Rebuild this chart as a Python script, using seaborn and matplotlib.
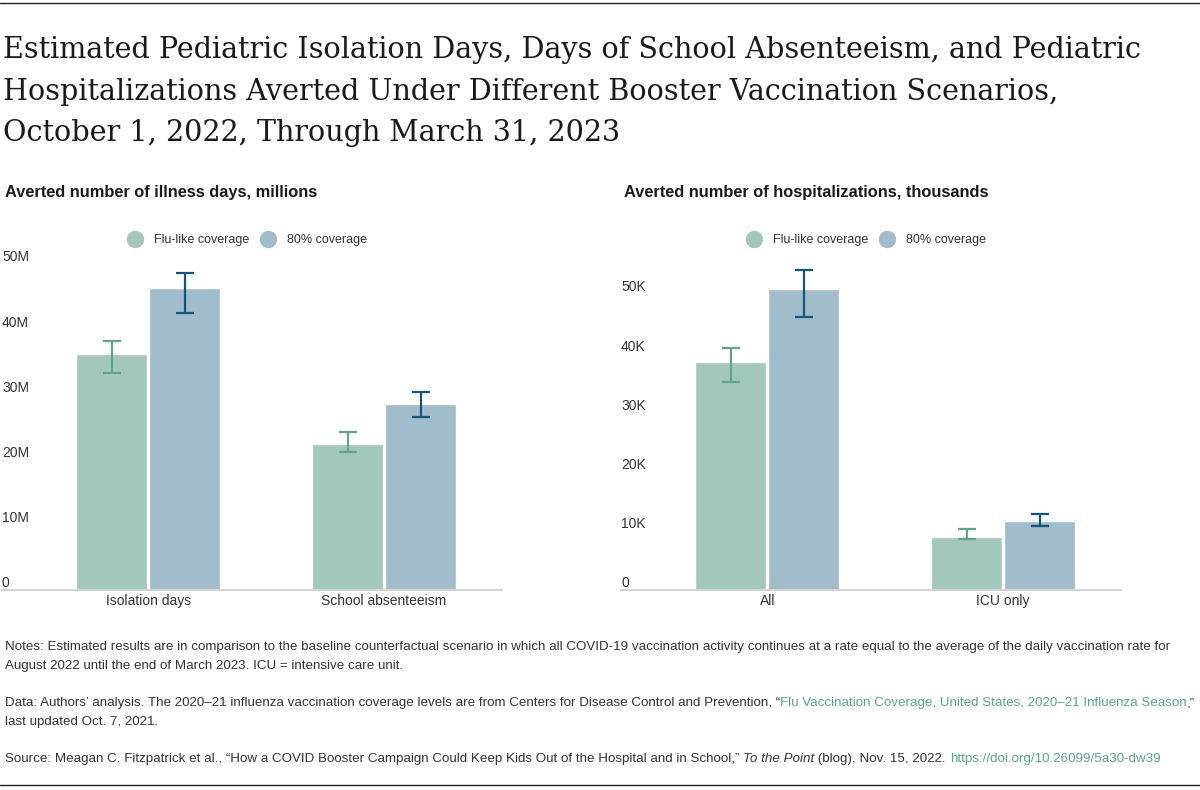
import pandas as pd
import seaborn as sns
import matplotlib.pyplot as plt
from matplotlib.lines import Line2D

# --- data ---
scenarios = ['Flu-like coverage', '80% coverage']

illness_cats = ['Isolation days', 'School absenteeism']
illness_flu = [36.2, 22.4]          # millions
illness_80 = [46.4, 28.6]
illness_flu_lo = [33.4, 21.2]
illness_flu_hi = [38.3, 24.3]
illness_80_lo = [42.6, 26.5]
illness_80_hi = [48.7, 30.4]
illness_ticks = [0, 10, 20, 30, 40, 50]
illness_ticklabels = ['0', '10M', '20M', '30M', '40M', '50M']

hosp_cats = ['All', 'ICU only']
hosp_flu = [38.5, 9.0]              # thousands
hosp_80 = [51.0, 11.6]
hosp_flu_lo = [35.2, 8.6]
hosp_flu_hi = [40.9, 10.4]
hosp_80_lo = [46.2, 10.8]
hosp_80_hi = [54.2, 12.9]
hosp_ticks = [0, 10, 20, 30, 40, 50]
hosp_ticklabels = ['0', '10K', '20K', '30K', '40K', '50K']

title_lines = [
    'Estimated Pediatric Isolation Days, Days of School Absenteeism, and Pediatric',
    'Hospitalizations Averted Under Different Booster Vaccination Scenarios,',
    'October 1, 2022, Through March 31, 2023',
]

# --- style ---
sns.set_theme(style="white")
plt.rcParams['font.family'] = ['Liberation Sans', 'DejaVu Sans']
bar_colors = ['#a3c8bb', '#a1bccb']
err_colors = ['#62a38d', '#14557c']
txt = '#333333'
link = '#5aa58c'

W, H = 1200, 790
fig = plt.figure(figsize=(12, 7.9), dpi=100)


def fx(px):
    return px / W


def fy(py):
    return 1 - py / H


def panel(left_px, cats, flu, p80, lo, hi, ticks, ticklabels, px_per_unit, subtitle):
    ax = fig.add_axes([fx(left_px), fy(590), fx(500), 340 / H])
    df = pd.DataFrame({
        'category': cats * 2,
        'scenario': [scenarios[0]] * len(cats) + [scenarios[1]] * len(cats),
        'value': flu + p80,
    })
    sns.barplot(data=df, x='category', y='value', hue='scenario', hue_order=scenarios,
                palette=bar_colors, saturation=1, width=0.62, gap=0.03,
                legend=False, ax=ax)
    # error bars at the bar centres seaborn placed
    bar_groups = list(ax.containers)
    for i, cont in enumerate(bar_groups):
        xs = [b.get_x() + b.get_width() / 2 for b in cont]
        vals = [flu, p80][i]
        ax.errorbar(xs, vals, yerr=[[v - l for v, l in zip(vals, lo[i])],
                                    [h - v for v, h in zip(vals, hi[i])]],
                    fmt='none', ecolor=err_colors[i], elinewidth=1.6,
                    capsize=6.7, capthick=1.6)
    ax.set_xlim(-0.62, 1.5)
    ax.set_ylim(0, 340 / px_per_unit)
    ax.set_yticks(ticks, ticklabels)
    ax.tick_params(axis='y', length=0, pad=0, labelsize=10, labelcolor=txt)
    for lab in ax.get_yticklabels():
        lab.set_ha('left')
        lab.set_va('bottom')
    ax.tick_params(axis='x', length=0, pad=3, labelsize=10, labelcolor=txt)
    ax.set_xlabel('')
    ax.set_ylabel('')
    for s in ['top', 'right', 'left']:
        ax.spines[s].set_visible(False)
    ax.spines['bottom'].set_color('#d4d4d4')
    ax.spines['bottom'].set_linewidth(1.5)
    handles = [Line2D([], [], marker='o', linestyle='', markersize=11.5,
                      markerfacecolor=c, markeredgecolor=c) for c in bar_colors]
    ax.legend(handles, scenarios, loc='center', bbox_to_anchor=(0.49, 350 / 340),
              ncol=2, frameon=False, fontsize=9, handlelength=1.28,
              handletextpad=0.85, columnspacing=0.85, labelcolor=txt)
    fig.text(fx(left_px + 3), fy(192), subtitle, fontsize=11.8, weight='bold',
             color='#1a1a1a', va='center')
    return ax


panel(2, illness_cats, illness_flu, illness_80,
      [illness_flu_lo, illness_80_lo], [illness_flu_hi, illness_80_hi],
      illness_ticks, illness_ticklabels, 6.51,
      'Averted number of illness days, millions')
panel(621, hosp_cats, hosp_flu, hosp_80,
      [hosp_flu_lo, hosp_80_lo], [hosp_flu_hi, hosp_80_hi],
      hosp_ticks, hosp_ticklabels, 5.91,
      'Averted number of hospitalizations, thousands')

# title
for i, line in enumerate(title_lines):
    fig.text(fx(3), fy(50 + 41.5 * i), line, fontsize=20.6, color='#1a1a1a',
             family=['DejaVu Serif'], va='center')

# rules
fig.add_artist(Line2D([0, 1], [fy(3), fy(3)], color='#222222', lw=1))
fig.add_artist(Line2D([0, 1], [fy(785), fy(785)], color='#222222', lw=1))

# notes
rend = fig.canvas.get_renderer()
fs = 9.6


def run(x_px, y_px, pieces):
    x = fx(x_px)
    for s, style in pieces:
        t = fig.text(x, fy(y_px), s, fontsize=fs, va='center', **style)
        bb = t.get_window_extent(renderer=rend)
        x = bb.x1 / fig.bbox.width


fig.text(fx(5), fy(647), 'Notes: Estimated results are in comparison to the baseline counterfactual '
         'scenario in which all COVID-19 vaccination activity continues at a rate equal to the '
         'average of the daily vaccination rate for', fontsize=fs, color=txt, va='center')
fig.text(fx(5), fy(666), 'August 2022 until the end of March 2023. ICU = intensive care unit.',
         fontsize=fs, color=txt, va='center')
run(5, 703, [
    ('Data: Authors\u2019 analysis. The 2020\u201321 influenza vaccination coverage levels are from '
     'Centers for Disease Control and Prevention, \u201c', {'color': txt}),
    ('Flu Vaccination Coverage, United States, 2020\u201321 Influenza Season', {'color': link}),
    (',\u201d', {'color': txt}),
])
fig.text(fx(5), fy(722), 'last updated Oct. 7, 2021.', fontsize=fs, color=txt, va='center')
run(5, 759, [
    ('Source: Meagan C. Fitzpatrick et al., \u201cHow a COVID Booster Campaign Could Keep Kids '
     'Out of the Hospital and in School,\u201d ', {'color': txt}),
    ('To the Point', {'color': txt, 'style': 'italic'}),
    (' (blog), Nov. 15, 2022. ', {'color': txt}),
    ('https://doi.org/10.26099/5a30-dw39', {'color': link}),
])

fig.savefig('out.png', dpi=100)
